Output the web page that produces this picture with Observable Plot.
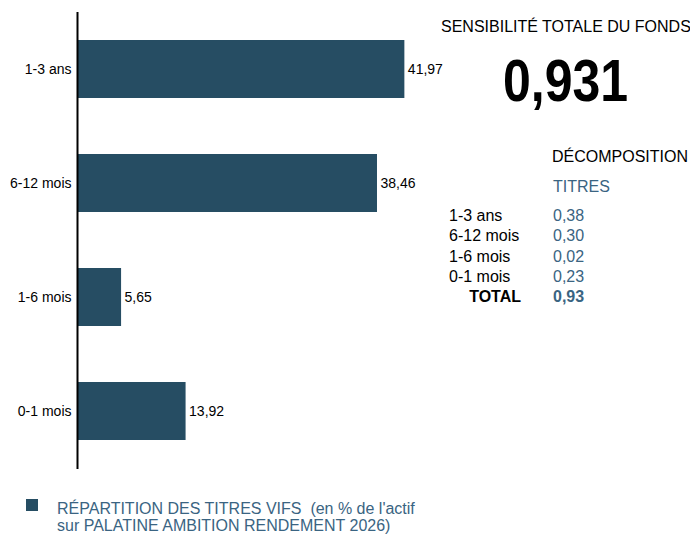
<!DOCTYPE html>
<html>
<head>
<meta charset="utf-8">
<script src="https://cdn.jsdelivr.net/npm/d3@7"></script>
<script src="https://cdn.jsdelivr.net/npm/@observablehq/plot@0.6"></script>
<style>
  html, body { margin: 0; padding: 0; background: #fff; overflow: hidden; }
  body { width: 690px; height: 534px; font-family: "Liberation Sans", Arial, sans-serif; }
  #wrap { position: relative; width: 690px; height: 534px; overflow: hidden; }
  #chart { position: absolute; left: 0; top: 0; }
  .t { position: absolute; white-space: pre; font-size: 16px; line-height: 16px; color: #000; }
  .blue { color: #3a6482; }
  .b { font-weight: bold; }
</style>
</head>
<body>
<div id="wrap">
  <div id="chart"></div>
</div>
<script>
// Data
const categories = ["1-3 ans", "6-12 mois", "1-6 mois", "0-1 mois"];
const values = [41.97, 38.46, 5.65, 13.92];
const decompLabels = ["1-3 ans", "6-12 mois", "1-6 mois", "0-1 mois"];
const decompValues = ["0,38", "0,30", "0,02", "0,23"];
const totalValue = "0,93";
const sensitivity = "0,931";
const caption = ["RÉPARTITION DES TITRES VIFS  (en % de l'actif", "sur PALATINE AMBITION RENDEMENT 2026)"];

const data = categories.map((c, i) => ({cat: c, v: values[i]}));
const fmt = v => v.toFixed(2).replace(".", ",");
const barColor = "#264d63";

const chart = Plot.plot({
  width: 690,
  height: 470,
  marginLeft: 77,
  marginRight: 223,
  marginTop: 12,
  marginBottom: 1,
  style: {fontFamily: "'Liberation Sans', Arial, sans-serif", fontSize: "14px", color: "#000", background: "transparent"},
  x: {domain: [0, 50], axis: null},
  y: {domain: categories, paddingInner: 0.49, paddingOuter: 0.245, label: null, tickSize: 0, tickPadding: 6},
  marks: [
    Plot.barX(data, {x: "v", y: "cat", fill: barColor}),
    Plot.text(data, {x: "v", y: "cat", text: d => fmt(d.v), textAnchor: "start", dx: 3, fill: "#000", fontSize: 14}),
    Plot.axisY({tickSize: 0, tickPadding: 6, fontSize: 14, label: null}),
    Plot.ruleX([0], {stroke: "#000", strokeWidth: 2})
  ]
});
document.getElementById("chart").appendChild(chart);

// Right panel and legend (HTML text)
const wrap = document.getElementById("wrap");
function addText(txt, x, yc, cls = "", extra = {}) {
  const d = document.createElement("div");
  d.className = "t " + cls;
  d.textContent = txt;
  d.style.left = x + "px";
  const fs = extra.fontSize || 16;
  d.style.fontSize = fs + "px";
  d.style.lineHeight = fs + "px";
  d.style.top = (yc - 0.49 * fs) + "px";
  if (extra.align === "right") { d.style.left = "auto"; d.style.right = (690 - x) + "px"; }
  if (extra.style) Object.assign(d.style, extra.style);
  wrap.appendChild(d);
  return d;
}
addText("SENSIBILITÉ TOTALE DU FONDS", 441, 27);
addText(sensitivity, 503, 80, "b", {fontSize: 50, style: {transform: "scaleY(1.2)", transformOrigin: "left center"}});
addText("DÉCOMPOSITION", 552, 157);
addText("TITRES", 553, 187, "blue");
const rowY = [216, 236, 257, 277];
decompLabels.forEach((l, i) => {
  addText(l, 449, rowY[i]);
  addText(decompValues[i], 553, rowY[i], "blue");
});
addText("TOTAL", 521, 297, "b", {align: "right"});
addText(totalValue, 553, 297, "blue b");

// Legend
const sq = document.createElement("div");
Object.assign(sq.style, {position: "absolute", left: "26px", top: "499px", width: "12px", height: "12px", background: barColor});
wrap.appendChild(sq);
addText(caption[0], 57, 508.5, "blue");
addText(caption[1], 57, 526, "blue");
</script>
</body>
</html>
